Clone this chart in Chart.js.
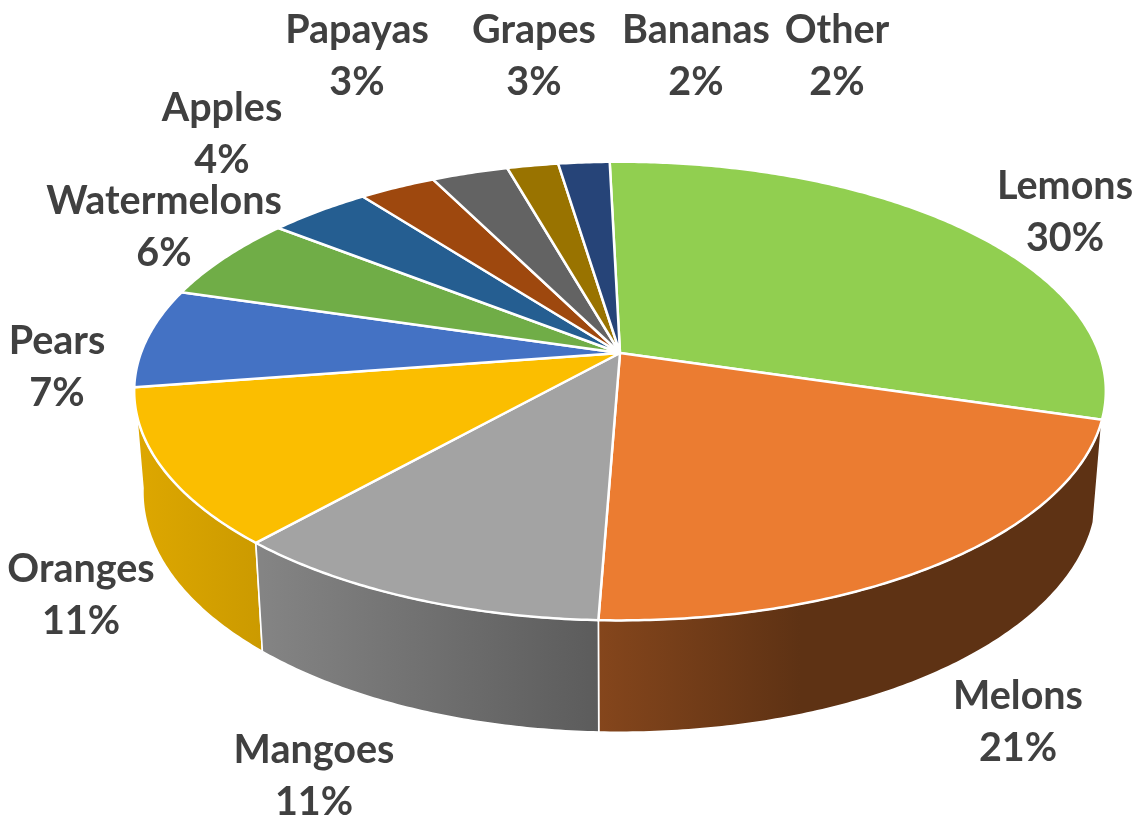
<!DOCTYPE html>
<html>
<head>
<meta charset="utf-8">
<title>Fruit share</title>
<style>
  html, body { margin: 0; padding: 0; background: #fff; }
  canvas { display: block; }
</style>
<script src="https://cdn.jsdelivr.net/npm/chart.js@4/dist/chart.umd.min.js"></script>
</head>
<body>
<canvas id="pie" width="1144" height="822"></canvas>
<script>
// Share of each fruit, in percent
const fruits = ['Lemons', 'Melons', 'Mangoes', 'Oranges', 'Pears', 'Watermelons', 'Apples', 'Papayas', 'Grapes', 'Bananas', 'Other'];
const shares = [30, 21, 11, 11, 7, 6, 4, 3, 3, 2, 2];
const sliceColors = ['#91CF50', '#EB7C31', '#A3A3A3', '#FBBE00', '#4472C4', '#70AD47', '#255E91', '#9E480E', '#636363', '#997300', '#264478'];

// Centre of each two-line label on the page
const labelX = [1065, 1018, 314, 81, 57, 164, 222, 357, 534, 696, 837];
const labelY = [186, 696, 750, 569, 341, 201, 108, 30, 30, 30, 30];

// Perspective of the tilted disc, relative to the arc radius
const TILT = { sx: 1.362, sy: 0.634, persp: -0.166, shrink: 0.982, depth0: 0.281, depth1: 0.037 };

// Side wall lighting: page x -> brightness of the slice colour
const WALL_LIGHT = [[140, 0.88], [262, 0.81], [597, 0.565], [800, 0.40], [1100, 0.40]];

function topPoint(arc, a) {
  const X = Math.cos(a), Y = Math.sin(a), w = 1 + TILT.persp * Y, R = arc.outerRadius;
  return [arc.x + TILT.sx * R * X / w, arc.y + TILT.sy * R * Y / w];
}

function bottomPoint(arc, a) {
  const [x, y] = topPoint(arc, a);
  const R = arc.outerRadius;
  return [arc.x + (x - arc.x) * TILT.shrink, y + R * (TILT.depth0 + TILT.depth1 * Math.sin(a))];
}

function rimAngles(arc) {
  const steps = Math.max(2, Math.ceil((arc.endAngle - arc.startAngle) / 0.01));
  const out = [];
  for (let i = 0; i <= steps; i++) out.push(arc.startAngle + (arc.endAngle - arc.startAngle) * i / steps);
  return out;
}

function shade(hex, k) {
  const n = parseInt(hex.slice(1), 16);
  return `rgb(${Math.round((n >> 16 & 255) * k)},${Math.round((n >> 8 & 255) * k)},${Math.round((n & 255) * k)})`;
}

function wallFill(ctx, color) {
  const x0 = WALL_LIGHT[0][0], x1 = WALL_LIGHT[WALL_LIGHT.length - 1][0];
  const g = ctx.createLinearGradient(x0, 0, x1, 0);
  WALL_LIGHT.forEach(([x, k]) => g.addColorStop((x - x0) / (x1 - x0), shade(color, k)));
  return g;
}

// Replaces the flat arcs with a thick perspective disc built from the arc elements
const tiltedDisc = {
  id: 'tiltedDisc',
  beforeDatasetDraw(chart, args) {
    const ctx = chart.ctx;
    const arcs = chart.getDatasetMeta(args.index).data;
    ctx.save();
    ctx.lineJoin = 'round';
    ctx.strokeStyle = '#ffffff';

    // Walls, furthest slices first so the nearest end up in front
    const order = arcs.map((_, i) => i).sort((p, q) =>
      Math.sin((arcs[p].startAngle + arcs[p].endAngle) / 2) - Math.sin((arcs[q].startAngle + arcs[q].endAngle) / 2));
    ctx.lineWidth = 1.6;
    order.forEach(i => {
      const arc = arcs[i], angles = rimAngles(arc);
      ctx.beginPath();
      angles.forEach((a, n) => { const p = topPoint(arc, a); n ? ctx.lineTo(p[0], p[1]) : ctx.moveTo(p[0], p[1]); });
      angles.slice().reverse().forEach(a => { const p = bottomPoint(arc, a); ctx.lineTo(p[0], p[1]); });
      ctx.closePath();
      ctx.fillStyle = wallFill(ctx, sliceColors[i]);
      ctx.fill();
      ctx.stroke();
    });

    // Top face
    arcs.forEach(arc => {
      ctx.beginPath();
      ctx.moveTo(arc.x, arc.y);
      rimAngles(arc).forEach(a => { const p = topPoint(arc, a); ctx.lineTo(p[0], p[1]); });
      ctx.closePath();
      ctx.fillStyle = arc.options.backgroundColor;
      ctx.fill();
      ctx.lineWidth = arc.options.borderWidth;
      ctx.strokeStyle = arc.options.borderColor;
      ctx.stroke();
    });
    ctx.restore();
    return false;
  },
  afterDatasetsDraw(chart) {
    const ctx = chart.ctx;
    ctx.save();
    ctx.font = 'bold 39.5px Lato';
    ctx.fillStyle = '#404040';
    ctx.textAlign = 'center';
    ctx.textBaseline = 'middle';
    fruits.forEach((name, i) => {
      ctx.fillText(name, labelX[i], labelY[i]);
      ctx.fillText(shares[i] + '%', labelX[i], labelY[i] + 52);
    });
    ctx.restore();
  }
};

new Chart(document.getElementById('pie'), {
  type: 'pie',
  data: {
    labels: fruits,
    datasets: [{ data: shares, backgroundColor: sliceColors, borderColor: '#ffffff', borderWidth: 2.5 }]
  },
  options: {
    responsive: false,
    animation: false,
    rotation: -1.44,
    layout: { padding: { left: 96, right: 0, top: 0, bottom: 116 } },
    plugins: { legend: { display: false }, tooltip: { enabled: false } }
  },
  plugins: [tiltedDisc]
});
</script>
</body>
</html>
